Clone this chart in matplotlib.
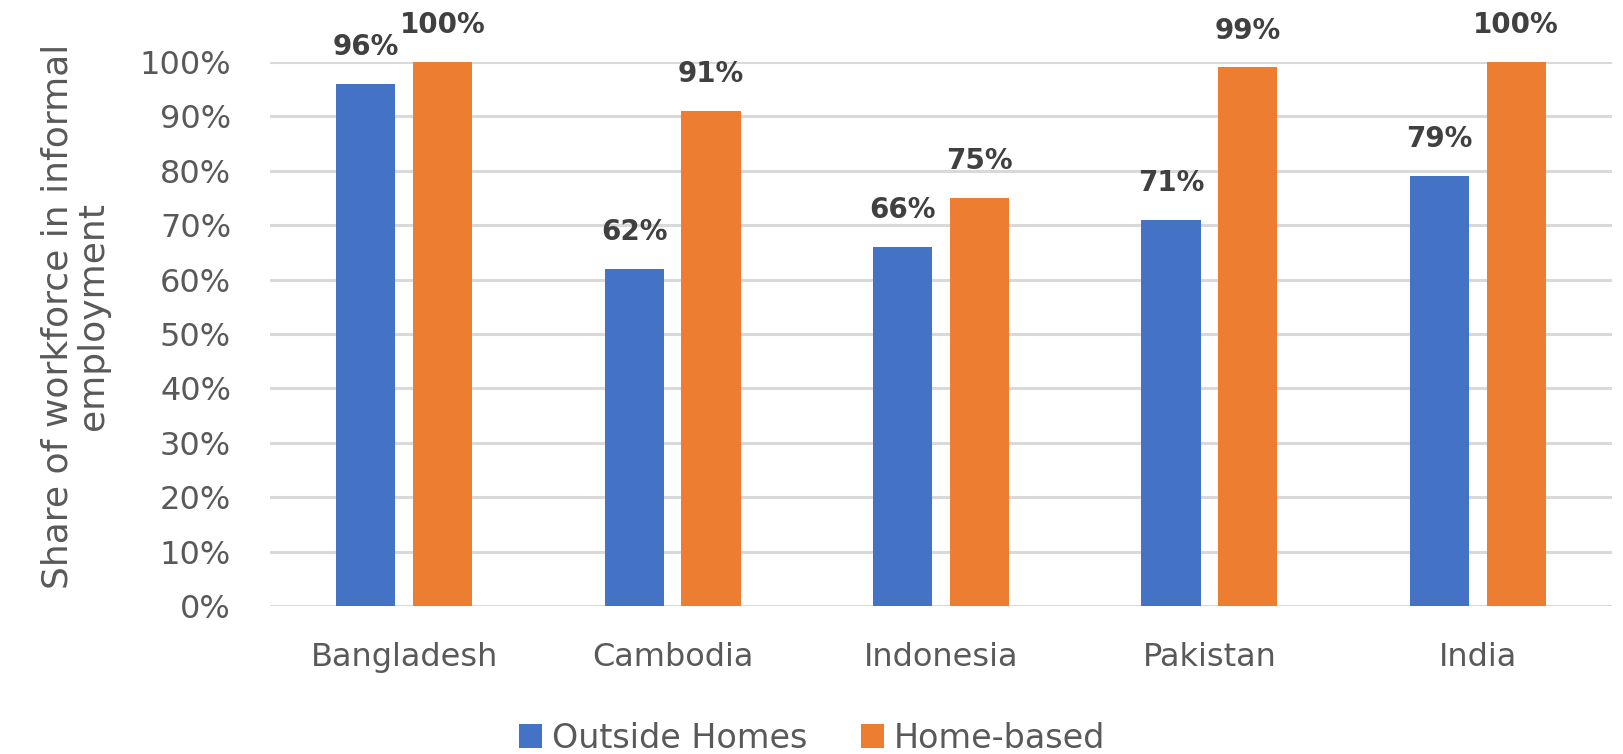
import matplotlib
matplotlib.use("Agg")
import matplotlib.pyplot as plt
import numpy as np

countries = ["Bangladesh", "Cambodia", "Indonesia", "Pakistan", "India"]
outside_homes = [96, 62, 66, 71, 79]
home_based = [100, 91, 75, 99, 100]
series_names = ["Outside Homes", "Home-based"]
title = "Informal employment among garment workers"

plt.rcParams['font.family'] = ['DejaVu Sans']

fig = plt.figure(figsize=(16.24, 7.54), dpi=100)
ax = fig.add_axes([270/1624, 1 - 606/754, (1612-270)/1624, (606-62)/754])

x = np.arange(len(countries))
w = 0.22
off = 0.143
b1 = ax.bar(x - off, outside_homes, w, color='#4472C4', label=series_names[0], zorder=3)
b2 = ax.bar(x + off, home_based, w, color='#ED7D31', label=series_names[1], zorder=3)

# value labels above each bar
for bars, vals in [(b1, outside_homes), (b2, home_based)]:
    for r, v in zip(bars, vals):
        ax.text(r.get_x() + r.get_width()/2, v + 4.2, f"{v}%", ha='center', va='bottom',
                fontsize=20, fontweight='bold', color='#404040', clip_on=False)

ax.set_xlim(-0.5, len(countries) - 0.5)
ax.set_ylim(0, 100)
ax.set_yticks(range(0, 101, 10))
ax.set_yticklabels([f"{t}%" for t in range(0, 101, 10)])
ax.set_xticks(x)
ax.set_xticklabels(countries)
ax.tick_params(axis='both', length=0, labelsize=23, labelcolor='#595959')
ax.tick_params(axis='y', pad=28)
ax.tick_params(axis='x', pad=26)
ax.yaxis.grid(True, color='#d9d9d9', linewidth=2.2, zorder=0)
for s in ax.spines.values():
    s.set_visible(False)

ax.set_ylabel("Share of workforce in informal\nemployment", fontsize=26, color='#595959',
              labelpad=21, linespacing=1.05, y=0.533)

fig.legend(handles=[b1, b2], loc='center', bbox_to_anchor=(0.5, 1 - 738/754), ncol=2,
           frameon=False, fontsize=24, labelcolor='#595959', handlelength=0.7,
           handleheight=0.7, handletextpad=0.3, columnspacing=1.6)

# title sits mostly above the top edge, as in the cropped original
fig.text(0.5, 1 + 12/754, title, ha='center', va='baseline', fontsize=32, color='#595959')

fig.savefig("out.png", dpi=100)
